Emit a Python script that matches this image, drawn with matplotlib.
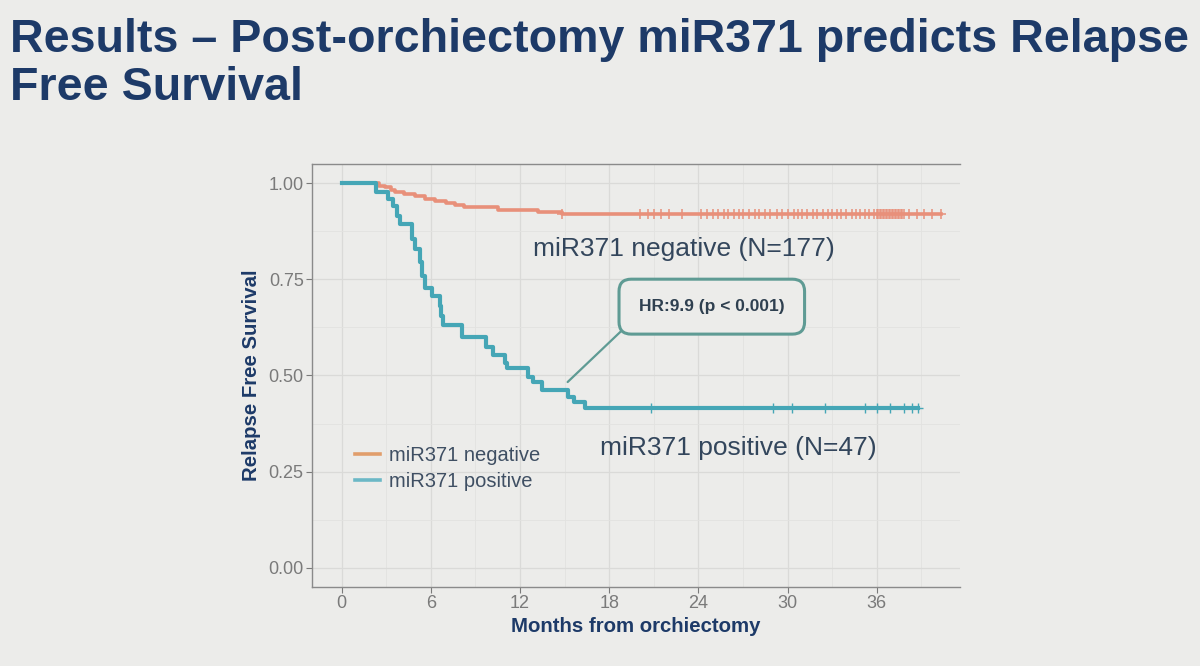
import matplotlib
matplotlib.use("Agg")
import matplotlib.pyplot as plt
from matplotlib.ticker import MultipleLocator

plt.rcParams['font.family'] = ['Liberation Sans', 'DejaVu Sans']

# Kaplan-Meier steps
neg_times = [0, 2.5, 2.9, 3.3, 3.6, 4.2, 4.9, 5.6, 6.3, 7.0, 7.6, 8.2, 10.5, 13.2, 14.8, 40.3]
neg_surv = [1.0, 0.994, 0.989, 0.983, 0.977, 0.972, 0.966, 0.960, 0.955, 0.949, 0.943,
            0.937, 0.931, 0.926, 0.920, 0.920]
neg_censor = [14.8, 20.1, 20.6, 21.0, 21.5, 22.0, 22.9, 24.2, 24.6, 25.0, 25.3, 25.7, 26.0,
              26.4, 26.7, 27.0, 27.4, 27.8, 28.1, 28.5, 28.8, 29.3, 29.6, 30.0, 30.4, 30.7,
              31.0, 31.3, 31.7, 32.0, 32.4, 32.7, 33.0, 33.3, 33.6, 33.9, 34.3, 34.6, 34.9,
              35.2, 35.5, 35.8, 36.0, 36.1, 36.2, 36.3, 36.4, 36.5, 36.6, 36.7, 36.8, 36.9,
              37.0, 37.1, 37.2, 37.3, 37.4, 37.5, 37.6, 37.7, 37.8, 38.2, 38.7, 39.2, 39.7,
              40.3]

pos_times = [0, 2.3, 3.1, 3.45, 3.7, 3.9, 4.7, 4.9, 5.25, 5.4, 5.6, 6.1, 6.6, 6.7, 6.8,
             8.06, 9.7, 10.2, 11.0, 11.1, 12.5, 12.9, 13.45, 15.2, 15.6, 16.4, 38.8]
pos_surv = [1.0, 0.976, 0.96, 0.94, 0.915, 0.893, 0.854, 0.83, 0.794, 0.758, 0.728, 0.706,
            0.68, 0.654, 0.632, 0.60, 0.575, 0.553, 0.532, 0.52, 0.497, 0.484, 0.462,
            0.445, 0.432, 0.415, 0.415]
pos_censor = [20.8, 29.0, 30.3, 32.5, 35.2, 36.0, 36.9, 37.8, 38.4, 38.8]

x_ticks = [0, 6, 12, 18, 24, 30, 36]
y_ticks = [0.0, 0.25, 0.5, 0.75, 1.0]
y_labels = ["0.00", "0.25", "0.50", "0.75", "1.00"]

bg = '#ececea'
neg_col = '#e8907a'
pos_col = '#45a6b6'
navy = '#1d3a68'
text_col = '#33465c'
box_col = '#5f9b94'

fig = plt.figure(figsize=(12, 6.66), dpi=100, facecolor=bg)
ax = fig.add_axes([0.26, 0.1186, 0.54, 0.6352], facecolor=bg)

def surv_at(times, surv, t):
    val = surv[0]
    for tt, s in zip(times, surv):
        if tt <= t:
            val = s
    return val

ax.step(neg_times, neg_surv, where='post', color=neg_col, lw=2.6, zorder=3)
ax.plot(neg_censor, [surv_at(neg_times, neg_surv, t) for t in neg_censor], ls='none',
        marker='+', ms=7, mew=1.1, color=neg_col, zorder=3)
ax.step(pos_times, pos_surv, where='post', color=pos_col, lw=3.0, zorder=4)
ax.plot(pos_censor, [surv_at(pos_times, pos_surv, t) for t in pos_censor], ls='none',
        marker='+', ms=7, mew=1.0, color=pos_col, zorder=4)

# legend handles
ax.plot([], [], color='#e19e6c', lw=2.6, label='miR371 negative')
ax.plot([], [], color='#6cb8c6', lw=2.6, label='miR371 positive')
handles, labels = ax.get_legend_handles_labels()
leg = ax.legend(handles[-2:], labels[-2:], loc='center left', bbox_to_anchor=(0.038, 0.28),
                frameon=False, fontsize=14.5, handlelength=1.25, handletextpad=0.45,
                labelspacing=0.35)
for t in leg.get_texts():
    t.set_color('#3f4f63')

ax.set_xlim(-2.0, 41.6)
ax.set_ylim(-0.05, 1.05)
ax.set_xticks(x_ticks)
ax.set_yticks(y_ticks)
ax.set_yticklabels(y_labels)
ax.xaxis.set_minor_locator(MultipleLocator(3))
ax.yaxis.set_minor_locator(MultipleLocator(0.125))
ax.grid(which='major', color='#dadad8', lw=0.9)
ax.grid(which='minor', color='#e2e2e0', lw=0.6)
ax.set_axisbelow(True)
ax.tick_params(which='major', labelsize=13, colors='#7a7a7a', length=4, width=0.8, pad=2)
ax.tick_params(which='minor', length=0)
for s in ['left', 'bottom', 'top']:
    ax.spines[s].set_color('#8a8a8a')
    ax.spines[s].set_linewidth(1.0)
ax.spines['right'].set_visible(False)

ax.set_xlabel('Months from orchiectomy', fontsize=14.7, fontweight='bold', color=navy,
              labelpad=3)
ax.set_ylabel('Relapse Free Survival', fontsize=14.7, fontweight='bold', color=navy,
              labelpad=5)

ax.text(23.0, 0.828, 'miR371 negative (N=177)', fontsize=19, color=text_col,
        ha='center', va='center')
ax.text(26.7, 0.311, 'miR371 positive (N=47)', fontsize=19, color=text_col,
        ha='center', va='center')

ax.annotate('HR:9.9 (p < 0.001)', xy=(15.2, 0.483), xytext=(24.9, 0.679),
            fontsize=12.5, fontweight='bold', color='#2f4050', ha='center', va='center',
            bbox=dict(boxstyle='round,pad=1.15,rounding_size=0.7', fc=bg, ec=box_col, lw=2.2),
            arrowprops=dict(arrowstyle='-', color=box_col, lw=1.6, relpos=(0.0, 0.0),
                            shrinkA=0, shrinkB=0))

fig.text(0.008, 0.973, 'Results \u2013 Post-orchiectomy miR371 predicts Relapse\nFree Survival',
         fontsize=33.6, fontweight='bold', color=navy, ha='left', va='top', linespacing=1.12)

fig.savefig('out.png', dpi=100, facecolor=bg)
